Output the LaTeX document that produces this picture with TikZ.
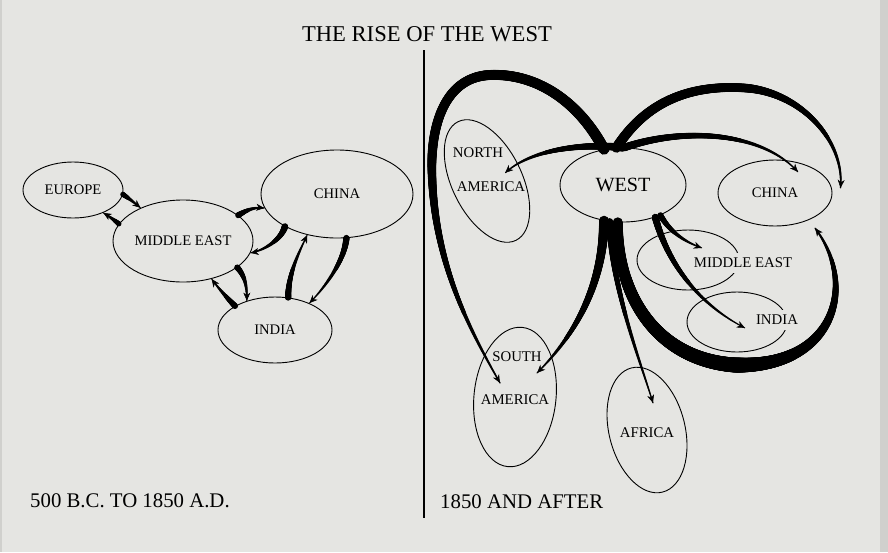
\documentclass[tikz,border=0pt]{standalone}
\usepackage{fontspec}
\setmainfont{Liberation Serif}
\usetikzlibrary{decorations.markings,arrows.meta,calc,shapes.geometric}
\definecolor{paper}{RGB}{229,229,226}
\definecolor{paperedge}{RGB}{208,208,205}
\tikzset{
  brush/.style n args={3}{
    postaction={decorate,
      decoration={markings,
        mark=between positions 0 and 1 step 0.5pt with {
          \pgfmathsetmacro\brushT{\pgfkeysvalueof{/pgf/decoration/mark info/distance from start}/\pgfdecoratedpathlength}
          \pgfmathsetmacro\brushR{\brushT<0.5 ? #1+(#2-#1)*2*\brushT : #2+(#3-#2)*(2*\brushT-1)}
          \fill[black] (0,0) circle[radius=\brushR pt];
        }}},
    postaction={decorate,
      decoration={markings,
        mark=at position -0.2pt with {\arrow[black,line width=0.5pt]{Stealth[length=8pt,width=7pt,inset=2.5pt]}}}}
  },
  region/.style={draw=black, line width=0.9pt, ellipse, inner sep=0pt,
    font=\fontsize{14.6}{16}\selectfont},
  lbl/.style={inner sep=0pt, font=\fontsize{14.8}{16}\selectfont},
  cut/.style={fill=paper, inner xsep=2pt, inner ysep=5pt, font=\fontsize{14.8}{16}\selectfont},
  caption/.style={inner sep=0pt, anchor=base west, font=\fontsize{20.8}{24}\selectfont},
}
\begin{document}
\begin{tikzpicture}[x=1pt,y=-1pt]
\fill[paper] (0,0) rectangle (888,552);
\fill[paperedge] (880,0) rectangle (888,552);
\fill[paperedge] (0,0) rectangle (2,552);
\useasboundingbox (0,0) rectangle (888,552);

% titles
\node[inner sep=0pt, anchor=base, font=\fontsize{22.6}{26}\selectfont] (title) at (427,41) {THE RISE OF THE WEST};
\node[caption] (capleft) at (30,507) {500 B.C. TO 1850 A.D.};
\node[caption] (capright) at (440,508) {1850 AND AFTER};
\coordinate (divtop) at (424,50);
\coordinate (divbot) at (424,518);
\draw[line width=2pt] (divtop) -- (divbot);

% ---------- left diagram ----------
\node[region, minimum width=100pt, minimum height=56pt] (europe) at (73,190) {EUROPE};
\node[region, minimum width=140pt, minimum height=82pt] (meL) at (183,241) {MIDDLE EAST};
\node[region, minimum width=152pt, minimum height=88pt] (chinaL) at (337,194) {CHINA};
\node[region, minimum width=114pt, minimum height=66pt] (indiaL) at (275,330) {INDIA};

\path[brush={2.6}{1.5}{0.5}] (europe.-5) .. controls +(6,4) and +(-6,-5) .. (meL.142);
\path[brush={2.6}{1.5}{0.5}] (meL.165) .. controls +(-5,-4) and +(5,3) .. (europe.-37);
\path[brush={3}{1.7}{0.5}] (meL.25) .. controls +(10,-6) and +(-10,-1) .. (chinaL.191);
\path[brush={3.3}{1.8}{0.5}] (chinaL.212) .. controls +(-4,14) and +(12,-2) .. (meL.-10);
\path[brush={3}{1.7}{0.5}] (meL.-26) .. controls +(9,10) and +(0,-12) .. (indiaL.134);
\path[brush={3}{1.7}{0.5}] (indiaL.149) .. controls +(-8,-8) and +(5,7) .. (meL.-53);
\path[brush={3.2}{1.8}{0.5}] (indiaL.68) .. controls +(0,-25) and +(-7,15) .. (chinaL.234);
\path[brush={3.2}{1.8}{0.5}] (chinaL.-78) .. controls +(-2,25) and +(12,-12) .. (indiaL.38);

% ---------- right diagram ----------
\node[region, minimum width=126pt, minimum height=74pt, font=\fontsize{20.2}{22}\selectfont] (west) at (623,185) {WEST};
\node[region, minimum width=70pt, minimum height=132pt, rotate=26] (nam) at (487,181) {};
\node[lbl] (namt1) at (478,153) {NORTH};
\node[lbl] (namt2) at (491,187) {AMERICA};
\node[region, minimum width=114pt, minimum height=66pt] (chinaR) at (775,193) {CHINA};
\node[region, minimum width=102pt, minimum height=60pt] (meR) at (688,260) {};
\node[cut] (meRt) at (743,263) {MIDDLE EAST};
\node[region, minimum width=100pt, minimum height=60pt] (indiaR) at (737,322) {};
\node[cut] (indiaRt) at (777,320) {INDIA};
\node[region, minimum width=82pt, minimum height=140pt, rotate=-6] (sam) at (515,397) {};
\node[lbl] (samt1) at (517,357) {SOUTH};
\node[lbl] (samt2) at (515,400) {AMERICA};
\node[region, minimum width=76pt, minimum height=128pt, rotate=14] (africa) at (647,430) {};
\node[lbl] (africat) at (647,433) {AFRICA};

% big left loop to South America
\path[brush={5.5}{4.6}{0.7}] (west.118) .. controls (578,100) and (535,73) .. (490,75)
   .. controls (445,77) and (430,125) .. (432,175)
   .. controls (435,265) and (470,330) .. ($(sam)+(-15,-14)$);
% big right loop to China
\path[brush={5}{4.3}{0.7}] (west.100) .. controls (650,95) and (700,85) .. (745,88)
   .. controls (800,92) and (845,140) .. ($(chinaR.east)+(8,-5)$);
% to North America
\path[brush={4}{2.5}{0.6}] (west.90) .. controls (580,143) and (530,150) .. ($(nam)+(18,-8)$);
% to China
\path[brush={3.8}{2.5}{0.6}] (west.88) .. controls (680,128) and (760,130) .. ($(chinaR)+(23,-21)$);
% to Middle East
\path[brush={3}{1.8}{0.5}] (west.-39) .. controls (670,232) and (685,242) .. ($(meR)+(14,-12)$);
% to India
\path[brush={3.5}{2}{0.5}] (west.-45) .. controls (668,265) and (700,305) .. ($(indiaR)+(8,6)$);
% big lower loop back to China
\path[brush={5}{7.5}{0.7}] (west.-98) .. controls (617,300) and (660,360) .. (735,365)
   .. controls (835,368) and (858,285) .. ($(chinaR)+(40,35)$);
% to South America
\path[brush={5}{3.2}{0.6}] (west.-118) .. controls (603,280) and (580,330) .. ($(sam)+(22,-24)$);
% to Africa
\path[brush={3.5}{2}{0.6}] (west.-110) .. controls (612,290) and (640,360) .. ($(africa)+(6,-27)$);
\end{tikzpicture}
\end{document}
